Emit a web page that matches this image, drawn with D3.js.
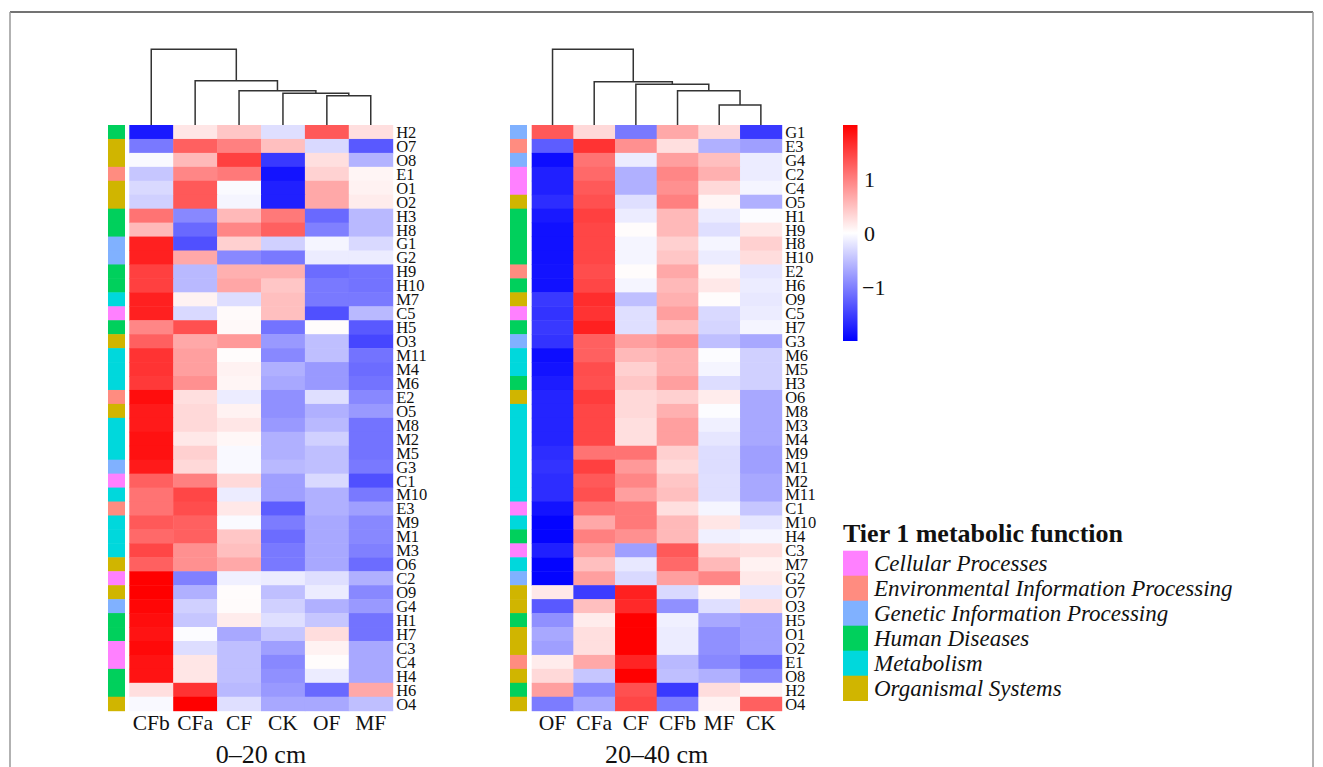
<!DOCTYPE html>
<html>
<head>
<meta charset="utf-8">
<script src="https://cdn.jsdelivr.net/npm/d3@7"></script>
<style>
  body { margin: 0; background: #fff; }
  text { font-family: "Liberation Serif", "Times New Roman", serif; fill: #111; }
</style>
</head>
<body>
<div id="chart"></div>
<script>
// row / column order as drawn (after clustering)
var leftRows = ["H2","O7","O8","E1","O1","O2","H3","H8","G1","G2","H9","H10","M7","C5","H5","O3","M11","M4","M6","E2","O5","M8","M2","M5","G3","C1","M10","E3","M9","M1","M3","O6","C2","O9","G4","H1","H7","C3","C4","H4","H6","O4"];
var leftCols = ["CFb","CFa","CF","CK","OF","MF"];
var leftValues = [
  [-1.8, 0.2, 0.45, -0.25, 1.3, 0.25],
  [-1.05, 1.25, 1.0, 0.5, -0.3, -1.3],
  [-0.05, 0.55, 1.5, -1.55, 0.25, -0.6],
  [-0.45, 0.95, 1.05, -1.85, 0.35, 0.08],
  [-0.3, 1.3, -0.04, -1.75, 0.68, 0.1],
  [-0.37, 1.3, -0.08, -1.75, 0.68, 0.15],
  [1.1, -0.93, 0.55, 1.05, -1.18, -0.55],
  [0.55, -1.18, 0.95, 1.25, -1.0, -0.55],
  [1.75, -1.37, 0.37, -0.37, -0.08, -0.3],
  [1.75, 0.68, -0.93, -1.05, -0.15, -0.15],
  [1.5, -0.55, 0.62, 0.62, -1.15, -1.1],
  [1.5, -0.55, 0.7, 0.45, -1.05, -1.1],
  [1.75, 0.1, -0.27, 0.5, -1.05, -1.05],
  [1.75, -0.3, 0.04, 0.5, -1.37, -0.55],
  [0.95, 1.37, 0.05, -1.1, 0.02, -1.3],
  [1.25, 0.68, 0.8, -0.8, -0.5, -1.45],
  [1.6, 0.75, 0.02, -0.93, -0.5, -1.1],
  [1.6, 0.75, 0.1, -0.62, -0.8, -1.15],
  [1.55, 0.87, 0.08, -0.68, -0.8, -1.1],
  [1.9, 0.25, -0.15, -0.87, -0.25, -0.93],
  [1.8, 0.3, 0.1, -0.87, -0.62, -0.8],
  [1.8, 0.3, 0.2, -0.8, -0.55, -1.1],
  [1.87, 0.18, 0.06, -0.62, -0.37, -1.1],
  [1.87, 0.37, -0.05, -0.62, -0.5, -1.1],
  [1.8, 0.3, -0.05, -0.55, -0.5, -1.05],
  [1.25, 1.0, 0.3, -0.75, -0.3, -1.37],
  [1.1, 1.45, -0.15, -0.75, -0.62, -1.05],
  [1.1, 1.4, 0.18, -1.27, -0.62, -0.75],
  [1.3, 1.25, -0.04, -1.03, -0.68, -0.93],
  [1.18, 1.25, 0.45, -1.15, -0.68, -0.93],
  [1.45, 0.87, 0.5, -1.05, -0.68, -1.0],
  [1.25, 0.87, 0.68, -1.05, -0.68, -1.15],
  [2.0, -1.0, -0.12, -0.15, -0.25, -0.62],
  [2.0, -0.62, 0.02, -0.5, -0.15, -0.93],
  [1.95, -0.37, 0.03, -0.37, -0.62, -0.8],
  [1.9, -0.45, 0.15, -0.25, -0.45, -1.1],
  [1.85, -0.02, -0.68, -0.45, 0.27, -1.1],
  [1.93, -0.27, -0.5, -0.75, 0.1, -0.68],
  [1.85, 0.2, -0.5, -0.93, 0.02, -0.68],
  [1.85, 0.2, -0.5, -0.87, -0.15, -0.68],
  [0.25, 1.6, -0.55, -0.8, -1.18, 0.68],
  [-0.05, 2.0, -0.25, -0.68, -0.68, -0.5]
];

var rightRows = ["G1","E3","G4","C2","C4","O5","H1","H9","H8","H10","E2","H6","O9","C5","H7","G3","M6","M5","H3","O6","M8","M3","M4","M9","M1","M2","M11","C1","M10","H4","C3","M7","G2","O7","O3","H5","O1","O2","E1","O8","H2","O4"];
var rightCols = ["OF","CFa","CF","CFb","MF","CK"];
var rightValues = [
  [1.3, 0.3, -1.05, 0.68, 0.3, -1.55],
  [-1.27, 1.6, 0.87, 0.25, -0.62, -0.75],
  [-1.9, 1.1, -0.15, 0.75, 0.5, -0.15],
  [-1.75, 1.18, -0.62, 0.95, 0.62, -0.15],
  [-1.75, 1.3, -0.62, 0.87, 0.3, -0.08],
  [-1.65, 1.37, -0.25, 1.0, 0.08, -0.62],
  [-1.8, 1.5, -0.15, 0.55, -0.15, -0.02],
  [-1.87, 1.45, 0.02, 0.55, -0.25, 0.18],
  [-1.87, 1.45, -0.08, 0.37, -0.08, 0.37],
  [-1.87, 1.45, -0.08, 0.45, -0.15, 0.27],
  [-1.85, 1.4, 0.02, 0.68, 0.08, -0.2],
  [-1.87, 1.45, -0.08, 0.55, 0.18, -0.15],
  [-1.55, 1.65, -0.5, 0.62, 0.02, -0.18],
  [-1.6, 1.6, -0.25, 0.75, -0.3, -0.15],
  [-1.55, 1.75, -0.25, 0.5, -0.33, -0.08],
  [-1.6, 1.25, 0.75, 0.87, -0.5, -0.68],
  [-1.9, 1.25, 0.55, 0.62, -0.02, -0.37],
  [-1.85, 1.4, 0.37, 0.62, -0.08, -0.37],
  [-1.78, 1.37, 0.45, 0.75, -0.27, -0.37],
  [-1.72, 1.53, 0.3, 0.37, 0.15, -0.68],
  [-1.72, 1.45, 0.3, 0.62, -0.02, -0.68],
  [-1.72, 1.45, 0.25, 0.75, -0.12, -0.68],
  [-1.72, 1.45, 0.25, 0.75, -0.2, -0.68],
  [-1.65, 1.1, 1.1, 0.37, -0.27, -0.75],
  [-1.6, 1.5, 0.8, 0.3, -0.27, -0.75],
  [-1.65, 1.3, 0.95, 0.45, -0.25, -0.68],
  [-1.65, 1.37, 0.75, 0.5, -0.25, -0.68],
  [-1.85, 1.1, 1.05, 0.25, -0.08, -0.45],
  [-1.97, 0.68, 1.05, 0.55, 0.2, -0.2],
  [-1.97, 1.0, 0.87, 0.55, -0.12, -0.08],
  [-1.75, 0.75, -0.75, 1.3, 0.3, 0.25],
  [-1.97, 0.5, -0.18, 1.18, 0.55, 0.1],
  [-1.97, 0.75, -0.3, 0.75, 0.95, 0.18],
  [0.18, -1.53, 1.75, -0.3, 0.08, -0.2],
  [-1.3, 0.5, 1.68, -0.87, -0.25, 0.27],
  [-0.87, 0.15, 2.0, -0.12, -0.68, -0.75],
  [-0.68, 0.25, 2.0, -0.15, -0.87, -0.75],
  [-0.75, 0.25, 2.0, -0.15, -0.87, -0.75],
  [0.15, 0.68, 1.72, -0.55, -0.93, -1.15],
  [0.3, -0.45, 2.0, -0.5, -0.62, -0.93],
  [0.75, -0.93, 1.37, -1.55, 0.27, 0.1],
  [-1.03, -0.68, 1.45, -1.03, 0.1, 1.25]
];

// column clustering, hclust-style merges: [a, b, height]; "mN" refers to merge N
var leftMerges = [["OF","MF",29.3],["CK","m0",31.7],["CF","m1",34.3],["CFa","m2",44.3],["CFb","m3",75.7]];
var rightMerges = [["MF","CK",20],["CFb","m0",34.3],["CF","m1",40.7],["CFa","m2",43.3],["OF","m3",75.7]];

var categories = ["Cellular Processes","Environmental Information Processing","Genetic Information Processing","Human Diseases","Metabolism","Organismal Systems"];
var categoryCodes = ["C","E","G","H","M","O"];
var categoryColors = ["#FF80FF","#FF8C80","#80B1FF","#00D05C","#00D8DC","#D0B500"];
var legendTicks = [-1, 0, 1];
var panelTitles = ["0\u201320 cm", "20\u201340 cm"];

var W = 1323, H = 767;
var svg = d3.select("#chart").append("svg").attr("width", W).attr("height", H);

// frame
svg.append("line").attr("x1", 10).attr("x2", 1313).attr("y1", 12).attr("y2", 12).attr("stroke", "#444").attr("stroke-width", 1.5);
svg.append("line").attr("x1", 10).attr("x2", 10).attr("y1", 12).attr("y2", H).attr("stroke", "#999").attr("stroke-width", 1.5);
svg.append("line").attr("x1", 1313).attr("x2", 1313).attr("y1", 12).attr("y2", H).attr("stroke", "#999").attr("stroke-width", 1.5);

var color = d3.scaleLinear().domain([-2, 0, 2]).range(["#0000FF", "#FFFFFF", "#FF0000"]).clamp(true);
var catColor = d3.scaleOrdinal().domain(categoryCodes).range(categoryColors);

var rowTop = 125, rowBottom = 710.7;

function drawPanel(p) {
  var g = svg.append("g");
  var x = d3.scaleBand().domain(p.cols).range([p.heatX, p.heatX + p.heatW]);
  var y = d3.scaleBand().domain(p.rows).range([rowTop, rowBottom]);

  // cells
  p.values.forEach(function (row, i) {
    g.selectAll(null).data(row).enter().append("rect")
      .attr("x", function (d, j) { return x(p.cols[j]); })
      .attr("y", y(p.rows[i]))
      .attr("width", x.bandwidth() + 0.5)
      .attr("height", y.bandwidth() + 0.5)
      .attr("fill", function (d) { return color(d); });
  });

  // row annotation
  g.selectAll(null).data(p.rows).enter().append("rect")
    .attr("x", p.annX).attr("width", 17)
    .attr("y", function (d) { return y(d); })
    .attr("height", y.bandwidth() + 0.5)
    .attr("fill", function (d) { return catColor(d[0]); });

  // row labels
  g.selectAll(null).data(p.rows).enter().append("text")
    .attr("x", p.heatX + p.heatW + 3.5)
    .attr("y", function (d) { return y(d) + y.bandwidth() / 2; })
    .attr("dy", "0.36em")
    .style("font-size", "16.5px")
    .text(function (d) { return d; });

  // column labels
  g.selectAll(null).data(p.cols).enter().append("text")
    .attr("x", function (d) { return x(d) + x.bandwidth() / 2; })
    .attr("y", 730)
    .attr("text-anchor", "middle")
    .style("font-size", "21.5px")
    .text(function (d) { return d; });

  g.append("text")
    .attr("x", p.heatX + p.heatW / 2).attr("y", 763)
    .attr("text-anchor", "middle")
    .style("font-size", "26px")
    .text(p.title);

  // dendrogram
  var hy = d3.scaleLinear().domain([0, 75.7]).range([rowTop, 49.3]);
  var pos = {};
  p.cols.forEach(function (c) { pos[c] = { x: x(c) + x.bandwidth() / 2, h: 0 }; });
  p.merges.forEach(function (m, i) {
    var a = pos[m[0]], b = pos[m[1]], yy = hy(m[2]);
    g.append("path")
      .attr("d", "M" + a.x + "," + hy(a.h) + "V" + yy + "H" + b.x + "V" + hy(b.h))
      .attr("fill", "none").attr("stroke", "#333").attr("stroke-width", 1.5);
    pos["m" + i] = { x: (a.x + b.x) / 2, h: m[2] };
  });
}

drawPanel({ rows: leftRows, cols: leftCols, values: leftValues, merges: leftMerges, annX: 108, heatX: 129.3, heatW: 263.4, title: panelTitles[0] });
drawPanel({ rows: rightRows, cols: rightCols, values: rightValues, merges: rightMerges, annX: 510, heatX: 531.7, heatW: 250, title: panelTitles[1] });

// colour bar
var defs = svg.append("defs");
var grad = defs.append("linearGradient").attr("id", "bar").attr("x1", 0).attr("x2", 0).attr("y1", 1).attr("y2", 0);
[-2, -1, 0, 1, 2].forEach(function (v) {
  grad.append("stop").attr("offset", ((v + 2) / 4 * 100) + "%").attr("stop-color", color(v));
});
var ly = d3.scaleLinear().domain([-2, 2]).range([341, 125]);
svg.append("rect").attr("x", 843).attr("y", ly(2)).attr("width", 14.5).attr("height", ly(-2) - ly(2)).attr("fill", "url(#bar)");
svg.selectAll(null).data(legendTicks).enter().append("text")
  .attr("x", function (d) { return d < 0 ? 862 : 864; })
  .attr("y", function (d) { return ly(d); })
  .attr("dy", "0.35em")
  .style("font-size", "22px")
  .text(function (d) { return d < 0 ? "\u2212" + Math.abs(d) : d; });

// category legend
svg.append("text").attr("x", 843).attr("y", 542)
  .style("font-size", "26px").style("font-weight", "bold")
  .text("Tier 1 metabolic function");
var lg = svg.selectAll(null).data(categories).enter().append("g")
  .attr("transform", function (d, i) { return "translate(843," + (550.7 + i * 25) + ")"; });
lg.append("rect").attr("width", 25).attr("height", 25.3)
  .attr("fill", function (d, i) { return categoryColors[i]; });
lg.append("text").attr("x", 31).attr("y", 12.5).attr("dy", "0.35em")
  .style("font-size", "23px").style("font-style", "italic")
  .text(function (d) { return d; });
</script>
</body>
</html>
